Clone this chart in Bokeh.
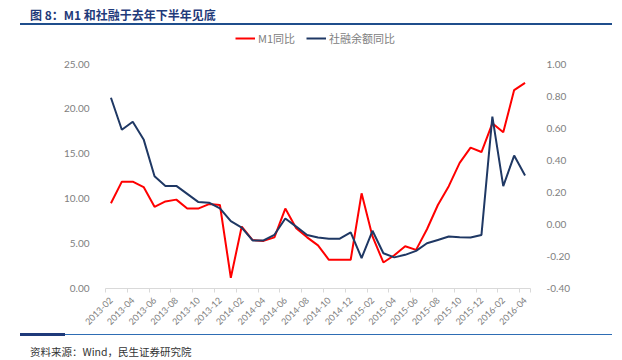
import math
from bokeh.plotting import figure
from bokeh.layouts import column
from bokeh.models import (LinearAxis, Range1d, FixedTicker, NumeralTickFormatter,
                          Legend, LegendItem, ColumnDataSource, Div)
from bokeh.embed import file_html
from bokeh.resources import INLINE

months = ["2013-02", "2013-03", "2013-04", "2013-05", "2013-06", "2013-07", "2013-08",
          "2013-09", "2013-10", "2013-11", "2013-12",
          "2014-01", "2014-02", "2014-03", "2014-04", "2014-05", "2014-06", "2014-07",
          "2014-08", "2014-09", "2014-10", "2014-11", "2014-12",
          "2015-01", "2015-02", "2015-03", "2015-04", "2015-05", "2015-06", "2015-07",
          "2015-08", "2015-09", "2015-10", "2015-11", "2015-12",
          "2016-01", "2016-02", "2016-03", "2016-04"]

m1_yoy = [9.5, 11.9, 11.9, 11.3, 9.1, 9.7, 9.9, 8.9, 8.9, 9.4, 9.3,
          1.2, 6.9, 5.4, 5.3, 5.7, 8.9, 6.7, 5.7, 4.8, 3.2, 3.2, 3.2,
          10.6, 5.8, 2.9, 3.7, 4.7, 4.3, 6.6, 9.3, 11.4, 14.0, 15.7, 15.2,
          18.4, 17.4, 22.1, 22.9]

tsf_yoy = [0.79, 0.59, 0.64, 0.53, 0.30, 0.24, 0.24, 0.19, 0.14, 0.135, 0.10,
           0.02, -0.02, -0.10, -0.10, -0.065, 0.037, -0.014, -0.066, -0.082, -0.089, -0.089, -0.05,
           -0.21, -0.04, -0.18, -0.206, -0.19, -0.165, -0.118, -0.097, -0.076, -0.08, -0.082, -0.066,
           0.672, 0.239, 0.429, 0.305]

left_ticks = [0, 5, 10, 15, 20, 25]
right_ticks = [-0.4, -0.2, 0.0, 0.2, 0.4, 0.6, 0.8, 1.0]
left_min, left_max = 0, 25
right_min, right_max = -0.4, 1.0

title_text = "图 8：M1 和社融于去年下半年见底"
source_text = "资料来源：Wind，民生证券研究院"
m1_label = "M1同比"
tsf_label = "社融余额同比"

# ---- layout (page pixels) ----
W = 622
HEAD_H = 25            # header block: title + rule
FOOT_H = 30            # footer block: rule + source
FIG_H = 360 - HEAD_H - FOOT_H
AX_TOP = 64            # page y of the top tick (25 / 1.00)
AX_BOT = 291           # page y of the x axis
FRAME_L, FRAME_R = 105, 530

extra_px = AX_TOP - HEAD_H           # frame extends above the top tick (invisible)
axis_px = AX_BOT - AX_TOP
left_top = left_max + extra_px / axis_px * (left_max - left_min)
right_top = right_max + extra_px / axis_px * (right_max - right_min)

xs = list(range(len(months)))
src = ColumnDataSource(dict(x=xs, m1=m1_yoy, tsf=tsf_yoy))

p = figure(width=W, height=FIG_H, output_backend="svg", toolbar_location=None,
           x_range=Range1d(-0.5, len(months) - 0.5), y_range=Range1d(left_min, left_top),
           min_border_left=FRAME_L, min_border_right=W - FRAME_R,
           min_border_top=0, min_border_bottom=HEAD_H + FIG_H - AX_BOT,
           background_fill_color="white", border_fill_color="white", margin=0)
p.outline_line_color = None
p.grid.visible = False
p.extra_y_ranges = {"right": Range1d(right_min, right_top)}

r1 = p.line("x", "m1", source=src, line_color="#FF0000", line_width=2)
r2 = p.line("x", "tsf", source=src, y_range_name="right", line_color="#1F3864", line_width=2)

tick_font = "Lato"
gray = "#808080"

# x axis
xa = p.xaxis[0]
label_idx = list(range(0, len(months), 2))
xa.ticker = FixedTicker(ticks=label_idx,
                        minor_ticks=[i - 0.5 for i in label_idx] + [len(months) - 0.5])
xa.major_label_overrides = {i: months[i] for i in label_idx}
xa.major_label_orientation = math.pi / 4
xa.major_tick_out = 0
xa.major_tick_in = 0
xa.minor_tick_out = 4
xa.minor_tick_in = 0
xa.minor_tick_line_color = "#D9D9D9"
xa.axis_line_color = "#D9D9D9"
xa.major_label_standoff = 6
xa.major_label_text_font = tick_font
xa.major_label_text_font_size = "9px"
xa.major_label_text_color = gray

# left axis
ya = p.yaxis[0]
ya.ticker = FixedTicker(ticks=left_ticks)
ya.formatter = NumeralTickFormatter(format="0.00")
ya.axis_line_color = None
ya.major_tick_line_color = None
ya.minor_tick_line_color = None
ya.major_label_standoff = 10
ya.major_label_text_font = tick_font
ya.major_label_text_font_size = "10px"
ya.major_label_text_color = gray

# right axis
ra = LinearAxis(y_range_name="right", ticker=FixedTicker(ticks=right_ticks),
                formatter=NumeralTickFormatter(format="0.00"))
ra.axis_line_color = None
ra.major_tick_line_color = None
ra.minor_tick_line_color = None
ra.major_label_standoff = 10
ra.major_label_text_font = tick_font
ra.major_label_text_font_size = "10px"
ra.major_label_text_color = gray
p.add_layout(ra, "right")

# legend (inside the extended frame, above the top tick)
leg_x, leg_bottom = 235, 49
legend = Legend(items=[LegendItem(label=m1_label, renderers=[r1]),
                       LegendItem(label=tsf_label, renderers=[r2])],
                orientation="horizontal",
                location=(leg_x - FRAME_L, AX_BOT - leg_bottom),
                border_line_color=None, background_fill_alpha=0,
                padding=0, margin=0, spacing=11, label_standoff=3,
                glyph_width=20, glyph_height=12, label_height=12,
                label_text_font="Noto Sans CJK SC", label_text_font_size="11px",
                label_text_color="#808080")
p.add_layout(legend)

header = Div(width=W, height=HEAD_H, margin=0, text=(
    '<div style="position:relative;width:%dpx;height:%dpx;margin:0;padding:0;">'
    '<div style="position:absolute;left:30px;top:8px;font-family:\'Noto Sans CJK SC\';'
    'font-weight:bold;font-size:12px;line-height:13px;color:#1F3A7A;white-space:nowrap;">%s</div>'
    '<div style="position:absolute;left:20px;top:23px;width:592px;height:2px;background:#1F4E8C;"></div>'
    '</div>') % (W, HEAD_H, title_text))

footer = Div(width=W, height=FOOT_H, margin=0, text=(
    '<div style="position:relative;width:%dpx;height:%dpx;margin:0;padding:0;">'
    '<div style="position:absolute;left:20px;top:4px;width:592px;height:1px;background:#2E6DB4;"></div>'
    '<div style="position:absolute;left:20px;top:3px;width:45px;height:3px;background:#1F3A7A;"></div>'
    '<div style="position:absolute;left:30px;top:16px;font-family:\'Noto Sans CJK SC\';'
    'font-size:10.5px;line-height:12px;color:#333333;white-space:nowrap;">%s</div>'
    '</div>') % (W, FOOT_H, source_text))

layout = column(header, p, footer, spacing=0)

open("out.html", "w").write(file_html(layout, INLINE))
